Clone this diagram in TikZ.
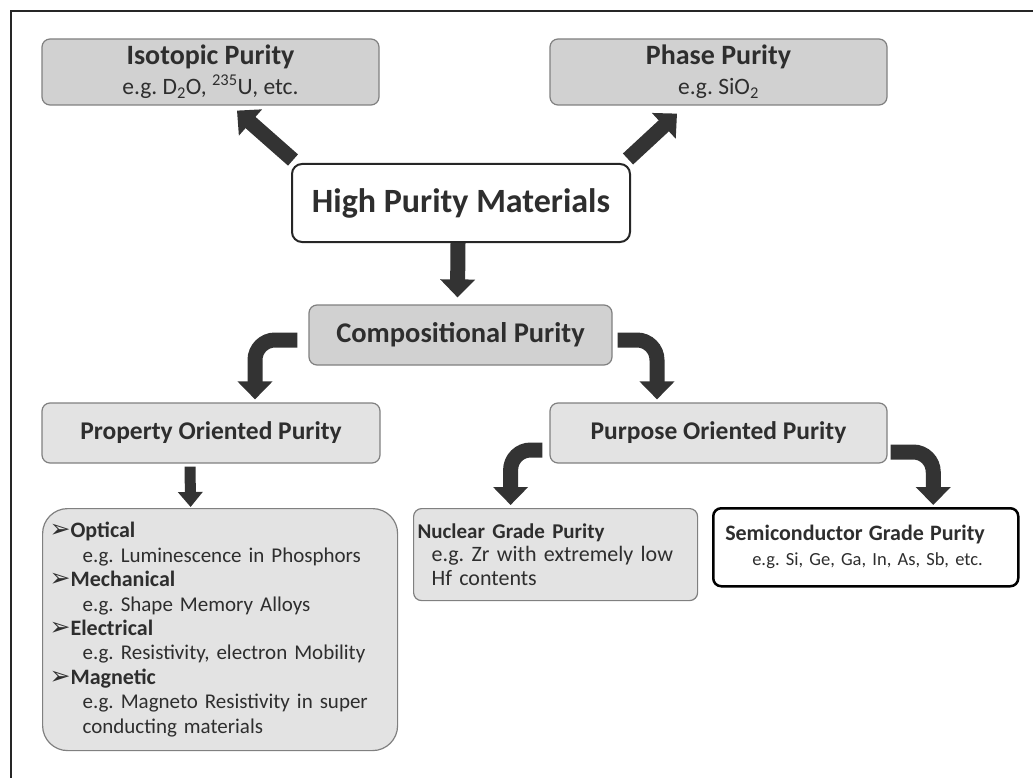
\documentclass[tikz,border=0pt]{standalone}
\usepackage{fontspec}
\setmainfont{Carlito}
\newfontfamily\dingfont{DejaVu Sans}
\usetikzlibrary{arrows.meta}
\frenchspacing

\tikzset{
	graybox/.style={draw=black!50, line width=1.2pt, fill=black!18, rounded corners=8pt, text=black!82, inner sep=2pt},
	lightbox/.style={graybox, fill=black!11},
	bigarrow/.style={draw=black!80, line width=15pt, -{Triangle[width=34pt,length=18pt]}},
	smallarrow/.style={draw=black!80, line width=11pt, -{Triangle[width=24pt,length=15pt]}},
}
\newcommand{\bul}{{\dingfont\fontsize{25}{19}\selectfont ➢}}
\newcommand{\fs}[1]{\fontsize{#1}{#1}\selectfont}

\begin{document}
\begin{tikzpicture}[x=1pt,y=-1pt]
		\useasboundingbox (0,0) rectangle (1033,778);
		\draw[line width=1.5pt, black!85] (11,778) -- (11,11) -- (1033,11);

		\node[graybox, minimum width=337pt, minimum height=66pt, align=center, font=\fontsize{23.5}{30}\selectfont] (iso) at (210.5,72) {{\fs{28}\bfseries Isotopic Purity}\\e.g. D\textsubscript{2}O, \textsuperscript{235}U, etc.};
		\node[graybox, minimum width=337pt, minimum height=66pt, align=center, font=\fontsize{23.5}{30}\selectfont] (phase) at (718.5,72) {{\fs{28}\bfseries Phase Purity}\\e.g. SiO\textsubscript{2}};
		\node[graybox, draw=black!85, line width=2pt, fill=white, rounded corners=10pt, minimum width=338pt, minimum height=78pt, font=\fontsize{34}{40}\selectfont\bfseries] (hpm) at (461,203) {High Purity Materials};
		\node[graybox, minimum width=303pt, minimum height=60pt, font=\fontsize{28.5}{32}\selectfont\bfseries] (comp) at (460.5,335) {Compositional Purity};
		\node[lightbox, minimum width=338pt, minimum height=60pt, font=\fontsize{25.5}{30}\selectfont\bfseries] (prop) at (211,433) {Property Oriented Purity};
		\node[lightbox, minimum width=337pt, minimum height=60pt, font=\fontsize{25.5}{30}\selectfont\bfseries] (purp) at (718.5,433) {Purpose Oriented Purity};
		\node[lightbox, rounded corners=25pt, anchor=north west, minimum height=242pt, text width=341pt, inner xsep=7pt, align=left, font=\fontsize{21}{24.4}\selectfont] (list) at (42,508) {\bul\textbf{\fs{22}Optical}\\\hspace*{33pt}e.g. Luminescence in Phosphors\\\bul\textbf{\fs{22}Mechanical}\\\hspace*{33pt}e.g. Shape Memory Alloys\\\bul\textbf{\fs{22}Electrical}\\\hspace*{33pt}e.g. Resistivity, electron Mobility\\\bul\textbf{\fs{22}Magnetic}\\\hspace*{33pt}e.g. Magneto Resistivity in super\\\hspace*{33pt}conducting materials};
		\node[lightbox, anchor=north west, minimum height=92pt, text width=276pt, inner xsep=4pt, align=left, font=\fontsize{22}{23.5}\selectfont] (nuc) at (413,508) {{\fs{21}\bfseries Nuclear Grade Purity}\\\hspace*{14pt}e.g. Zr with extremely low\\\hspace*{14pt}Hf contents};
		\node[graybox, draw=black, line width=2.5pt, fill=white, anchor=north west, minimum height=78pt, text width=281pt, inner xsep=12pt, align=left, font=\fontsize{18.5}{25}\selectfont] (semi) at (712,507) {{\fs{22}\bfseries Semiconductor Grade Purity}\\\hspace*{27pt}e.g. Si, Ge, Ga, In, As, Sb, etc.};

		\draw[bigarrow] ([xshift=2pt,yshift=3pt]hpm.north west) -- ([xshift=26.5pt,yshift=-5pt]iso.south);
		\draw[bigarrow] ([xshift=-3pt,yshift=4pt]hpm.north east) -- ([xshift=-41.5pt,yshift=-8pt]phase.south);
		\draw[bigarrow] ([xshift=-3pt]hpm.south) -- ([xshift=-3pt,yshift=7pt]comp.north);
		\draw[bigarrow, rounded corners=20pt] ([xshift=-11pt,yshift=-5pt]comp.west) -| ([xshift=44pt,yshift=3pt]prop.north);
		\draw[bigarrow, rounded corners=20pt] ([xshift=5pt,yshift=-5pt]comp.east) -| ([xshift=-61.5pt,yshift=3pt]purp.north);
		\draw[smallarrow] ([xshift=-21pt,yshift=-3pt]prop.south) -- ([xshift=-29.5pt,yshift=1pt]list.north);
		\draw[bigarrow, rounded corners=20pt] ([xshift=-7pt,yshift=-17pt]purp.west) -| ([xshift=-45pt,yshift=3pt]nuc.north);
		\draw[bigarrow, rounded corners=20pt] ([xshift=3pt,yshift=-19pt]purp.east) -| ([xshift=67.5pt,yshift=2pt]semi.north);
	\end{tikzpicture}
\end{document}
